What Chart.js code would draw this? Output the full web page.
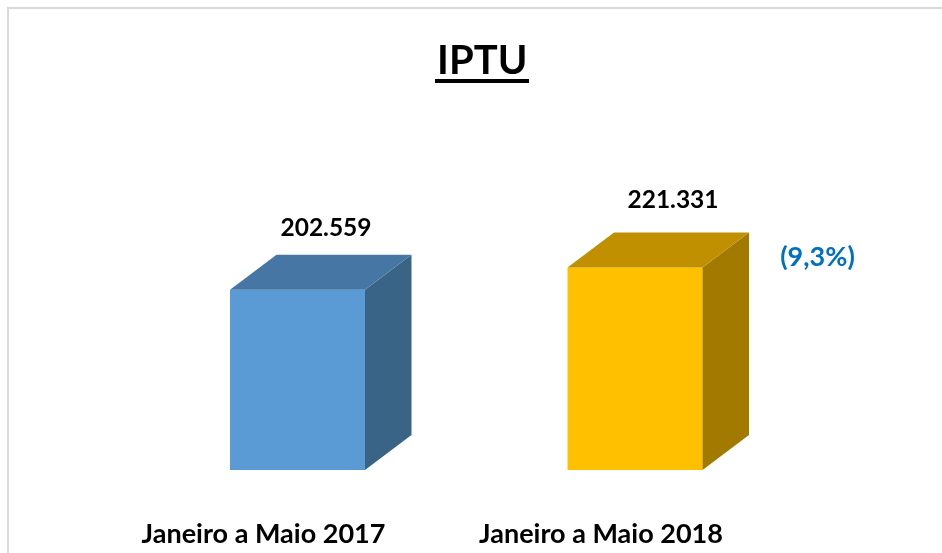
<!DOCTYPE html>
<html lang="pt-BR">
<head>
<meta charset="utf-8">
<title>IPTU</title>
<script src="https://cdn.jsdelivr.net/npm/chart.js@4"></script>
<style>
  html, body { margin: 0; padding: 0; background: #fff; overflow: hidden; }
  canvas { display: block; }
</style>
</head>
<body>
<canvas id="iptuChart" width="942" height="553"></canvas>
<script>
// Dados do grafico
const categories = ['Janeiro a Maio 2017', 'Janeiro a Maio 2018'];
const values = [202559, 221331];
const changeLabels = ['', '(9,3%)'];

// Cores das faces de cada barra
const frontColors = ['#5B9BD5', '#FFC000'];
const topColors = ['#4676A3', '#C09000'];
const sideColors = ['#3A6486', '#A27A00'];

const FONT = 'Lato, Carlito, sans-serif';
const DEPTH_X = 46.5;
const DEPTH_Y = 35;
const LABEL_SHIFT = [28.5, 38]; // rotulo fica deslocado da frente da barra
const LABEL_RISE = [26.5, 32.5];
const TITLE_SHIFT = 16;

function formatValue(v) {
  return String(v).replace(/\B(?=(\d{3})+$)/g, '.');
}

// Desenha a moldura, o sublinhado do titulo e as faces 3D
const bars3d = {
  id: 'bars3d',
  afterLayout(chart) {
    chart.titleBlock.left += TITLE_SHIFT;
    chart.titleBlock.right += TITLE_SHIFT;
  },
  beforeDraw(chart) {
    const c = chart.ctx;
    c.save();
    c.strokeStyle = '#D9D9D9';
    c.lineWidth = 2;
    c.beginPath();
    c.moveTo(8, chart.height);
    c.lineTo(8, 8);
    c.lineTo(chart.width, 8);
    c.stroke();
    c.restore();
  },
  afterDatasetsDraw(chart) {
    const c = chart.ctx;
    const meta = chart.getDatasetMeta(0);
    const base = chart.scales.y.bottom;
    c.save();
    meta.data.forEach((bar, i) => {
      const half = bar.width / 2;
      const left = bar.x - half;
      const right = bar.x + half;

      c.fillStyle = sideColors[i];
      c.beginPath();
      c.moveTo(right, bar.y);
      c.lineTo(right + DEPTH_X, bar.y - DEPTH_Y);
      c.lineTo(right + DEPTH_X, base - DEPTH_Y);
      c.lineTo(right, base);
      c.closePath();
      c.fill();

      c.fillStyle = topColors[i];
      c.beginPath();
      c.moveTo(left, bar.y);
      c.lineTo(left + DEPTH_X, bar.y - DEPTH_Y);
      c.lineTo(right + DEPTH_X, bar.y - DEPTH_Y);
      c.lineTo(right, bar.y);
      c.closePath();
      c.fill();

      c.textAlign = 'center';
      c.textBaseline = 'middle';
      c.font = 'bold 24.5px ' + FONT;
      c.fillStyle = '#000';
      c.fillText(formatValue(values[i]), bar.x + LABEL_SHIFT[i], bar.y - DEPTH_Y - LABEL_RISE[i]);

      if (changeLabels[i]) {
        c.font = 'bold 27px ' + FONT;
        c.fillStyle = '#0070C0';
        c.fillText(changeLabels[i], right + 115, bar.y - 10);
      }
    });

    // sublinhado do titulo
    c.fillStyle = '#000';
    c.fillRect(435, 79, 94, 4);
    c.restore();
  }
};

new Chart(document.getElementById('iptuChart'), {
  type: 'bar',
  data: {
    labels: categories,
    datasets: [{
      data: values,
      backgroundColor: frontColors,
      borderWidth: 0,
      barPercentage: 0.4,
      categoryPercentage: 1
    }]
  },
  plugins: [bars3d],
  options: {
    responsive: false,
    animation: false,
    layout: {
      padding: { left: 128.75, right: 138.25, top: 0, bottom: 0 }
    },
    plugins: {
      legend: { display: false },
      tooltip: { enabled: false },
      title: {
        display: true,
        text: 'IPTU',
        color: '#000',
        font: { family: FONT, size: 40, weight: 'bold' },
        padding: { top: 37, bottom: 148.6 }
      }
    },
    scales: {
      x: {
        grid: { display: false },
        border: { display: false },
        afterFit(scale) { scale.height = 83; },
        ticks: {
          color: '#000',
          font: { family: FONT, size: 27, weight: 'bold' },
          labelOffset: -34,
          padding: 40,
          maxRotation: 0,
          autoSkip: false
        }
      },
      y: {
        display: false,
        min: 50000,
        max: 250000
      }
    }
  }
});
</script>
</body>
</html>
